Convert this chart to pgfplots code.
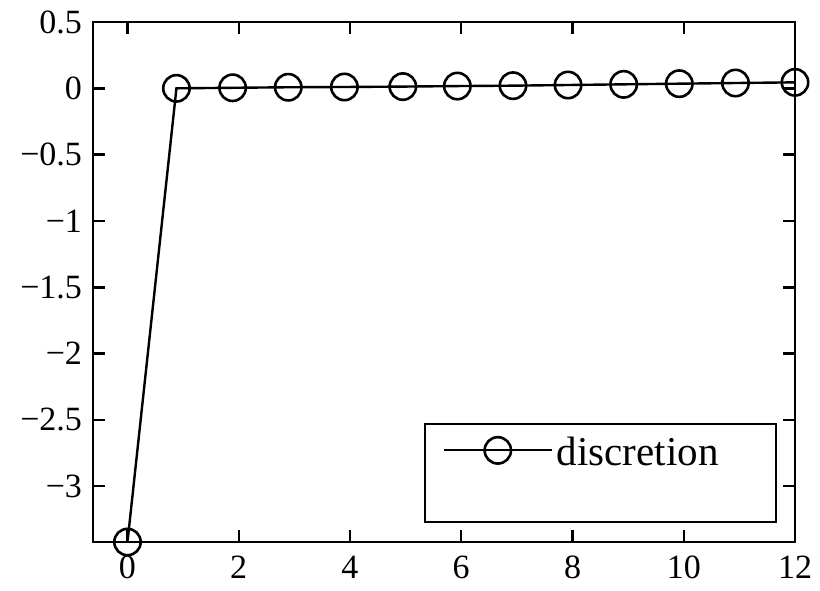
\documentclass[border=0pt]{standalone}
\usepackage{fontspec}
\setmainfont{Liberation Serif}
\usepackage{pgfplots}
\pgfplotsset{compat=1.18}
\newcommand\lbl{\fontsize{20.5bp}{24bp}\selectfont}
\newcommand\tlbl{\fontsize{17bp}{20bp}\selectfont}
\begin{document}
\begin{tikzpicture}
\begin{axis}[
    scale only axis,
    width=351bp, height=260bp,
    xmin=-0.62, xmax=12,
    ymin=-3.42, ymax=0.5,
    xtick={0,2,4,6,8,10,12},
    ytick={-3,-2.5,-2,-1.5,-1,-0.5,0,0.5},
    yticklabels={−3,−2.5,−2,−1.5,−1,−0.5,0,0.5},
    xticklabels={0,2,4,6,8,10,12},
    tick align=inside,
    major tick length=6bp,
    axis line style={line width=1.2bp},
    every tick/.style={line width=1.2bp, black},
    tick label style={font=\tlbl},
    yticklabel style={xshift=-2bp},
    xticklabel style={yshift=-3.5bp},
    clip=false,
    legend cell align=left,
    legend style={
        at={(rel axis cs:1,0)}, anchor=south east,
        xshift=-9bp, yshift=9.5bp,
        draw=black, line width=1.2bp,
        font=\lbl, inner xsep=9bp, inner ysep=2bp,
        row sep=0bp,
    },
    legend image code/.code={
        \draw[#1, line width=1bp, mark repeat=2, mark phase=2]
            plot coordinates {(0bp,0bp) (27bp,0bp) (54bp,0bp)};
    },
]
\addplot[black, line width=1.2bp, mark=o, mark size=6.6bp,
         mark options={line width=1.3bp}] coordinates {
    (0,-3.42) (0.88,0.0) (1.89,0.004) (2.89,0.008) (3.90,0.010)
    (4.95,0.013) (5.93,0.017) (6.93,0.020) (7.92,0.025) (8.92,0.030)
    (9.92,0.035) (10.93,0.040) (12,0.045)
};
\addlegendentry{\makebox[98.5bp][l]{\rule{0pt}{17bp}discretion}}
\addlegendimage{empty legend}
\addlegendentry{\rule{0pt}{17bp}}
\end{axis}
% page the size of the reference, axis box where it stands there
\pgfresetboundingbox
\path (-46.5bp,-24.5bp) rectangle (363.5bp,271bp);
\end{tikzpicture}
\end{document}
